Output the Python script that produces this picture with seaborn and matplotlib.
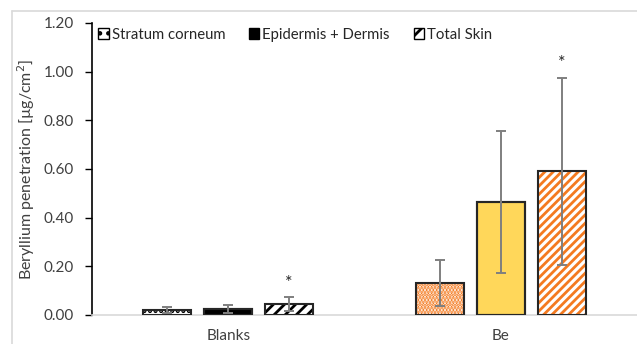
import matplotlib
matplotlib.use("Agg")
import matplotlib.pyplot as plt
from matplotlib.patches import Patch, Rectangle
from matplotlib.lines import Line2D
import numpy as np
import pandas as pd
import seaborn as sns

groups = ["Blanks", "Be"]
layers = ["Stratum corneum", "Epidermis + Dermis", "Total Skin"]
blanks_mean = [0.020, 0.025, 0.045]
blanks_sd = [0.012, 0.015, 0.027]
be_mean = [0.130, 0.465, 0.590]
be_sd = [0.095, 0.293, 0.386]
significant = {("Blanks", "Total Skin"), ("Be", "Total Skin")}
y_ticks = [0.0, 0.2, 0.4, 0.6, 0.8, 1.0, 1.2]

df = pd.DataFrame({
    "group": [g for g in groups for _ in layers],
    "layer": layers * len(groups),
    "mean": blanks_mean + be_mean,
    "sd": blanks_sd + be_sd,
})

sns.set_theme(style="white")
plt.rcParams["font.family"] = ["Lato", "DejaVu Sans"]
plt.rcParams["hatch.linewidth"] = 2.0

ORANGE = "#F47A20"
YELLOW = "#FFD75A"
EDGE = "#262626"
GREY_ERR = "#7F7F7F"
TXT = "#404040"

fig = plt.figure(figsize=(6.37, 3.44), dpi=100)
ax = fig.add_axes([92 / 637, 1 - 315 / 344, 1 - 92 / 637, (315 - 23) / 344])

sns.barplot(data=df, x="group", y="mean", hue="layer", order=groups,
            hue_order=layers, errorbar=None, width=0.67, gap=0.21,
            palette=["white"] * 3, ax=ax, legend=False, zorder=2)

# styling per (layer, group): (face, hatch, hatch colour)
styles = {
    ("Stratum corneum", "Blanks"): ("white", "...", "black"),
    ("Epidermis + Dermis", "Blanks"): ("black", None, None),
    ("Total Skin", "Blanks"): ("white", "///", "black"),
    ("Stratum corneum", "Be"): ("white", ".....", ORANGE),
    ("Epidermis + Dermis", "Be"): (YELLOW, None, None),
    ("Total Skin", "Be"): ("white", "////", ORANGE),
}

for i, layer in enumerate(layers):
    for j, grp in enumerate(groups):
        bar = ax.containers[i][j]
        face, hatch, hcol = styles[(layer, grp)]
        x0, w, h = bar.get_x(), bar.get_width(), bar.get_height()
        bar.set_facecolor(face)
        if hatch:
            bar.set_hatch(hatch)
            bar.set_edgecolor(hcol)
            bar.set_linewidth(0)
        else:
            bar.set_edgecolor(EDGE)
            bar.set_linewidth(1.5)
        ax.add_patch(Rectangle((x0, 0), w, h, facecolor="none",
                               edgecolor=EDGE, linewidth=1.5, zorder=3))
        row = df[(df.group == grp) & (df.layer == layer)].iloc[0]
        xc = x0 + w / 2
        ax.errorbar(xc, row["mean"], yerr=row["sd"], fmt="none",
                    ecolor=GREY_ERR, elinewidth=1.4, capsize=3.8,
                    capthick=1.4, zorder=4)
        if (grp, layer) in significant:
            ax.annotate("*", (xc, row["mean"] + row["sd"]),
                        xytext=(0, 5), textcoords="offset points",
                        ha="center", va="bottom", fontsize=13,
                        color="#262626")

ax.set_xlim(-0.5, 1.5)
ax.set_ylim(0, 1.2)
ax.set_yticks(y_ticks)
ax.set_yticklabels([f"{v:.2f}" for v in y_ticks], fontsize=11, color=TXT)
ax.tick_params(axis="y", which="both", left=True, length=5, width=1,
               color="black", pad=8)
ax.tick_params(axis="x", length=0, pad=10, labelsize=11, labelcolor=TXT)
ax.set_xlabel("")
ax.set_ylabel("Beryllium penetration [µg/cm$^2$]", fontsize=11.5,
              color=TXT, labelpad=5)

for side in ["top", "right"]:
    ax.spines[side].set_visible(False)
ax.spines["left"].set_color("black")
ax.spines["left"].set_linewidth(1.2)
ax.spines["bottom"].set_color("#D9D9D9")
ax.spines["bottom"].set_linewidth(1.2)

# legend handles
handles = [
    Patch(facecolor="white", edgecolor="black", hatch="..", linewidth=1),
    Patch(facecolor="black", edgecolor="black", linewidth=1),
    Patch(facecolor="white", edgecolor="black", hatch="//", linewidth=1),
]
ax.legend(handles, layers, ncol=3, loc="upper left",
          bbox_to_anchor=(-0.013, 1.03), frameon=False, fontsize=10.7,
          handlelength=0.7, handleheight=0.7, handletextpad=0.2,
          columnspacing=1.6, labelcolor="#262626")

# outer chart frame
fig.add_artist(Line2D([12 / 637, 1], [1 - 11 / 344] * 2, color="#D9D9D9",
                      lw=1.2, transform=fig.transFigure))
fig.add_artist(Line2D([12 / 637] * 2, [0, 1 - 11 / 344], color="#D9D9D9",
                      lw=1.2, transform=fig.transFigure))

fig.savefig("out.png", dpi=100)
